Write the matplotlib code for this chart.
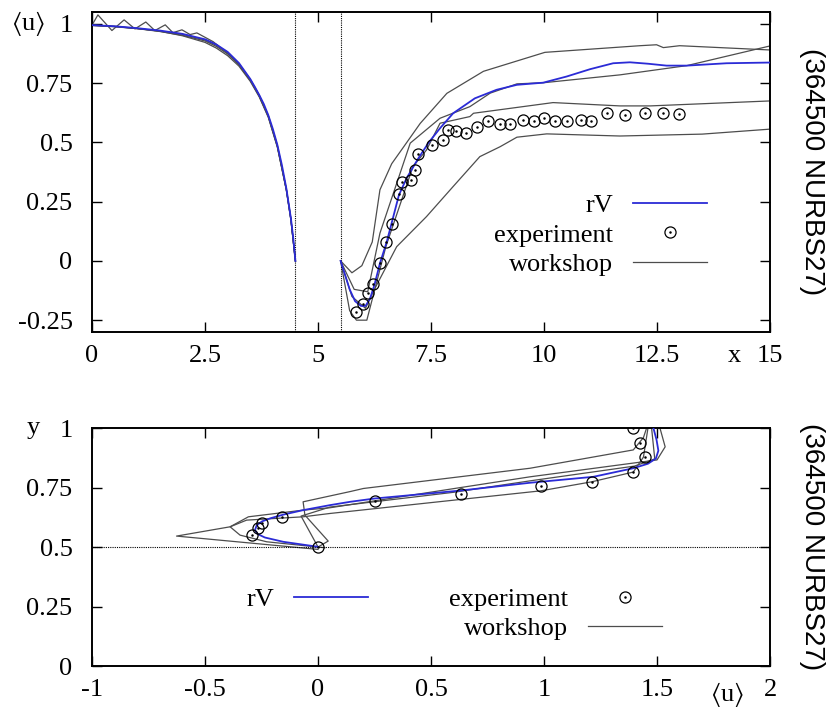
import matplotlib
matplotlib.use("Agg")
import matplotlib.pyplot as plt
from matplotlib.legend_handler import HandlerTuple
from matplotlib.lines import Line2D
import matplotlib.transforms as mtransforms

plt.rcParams["font.family"] = ["Liberation Serif", "DejaVu Serif"]
plt.rcParams["mathtext.fontset"] = "stix"
plt.rcParams["axes.unicode_minus"] = False

# ---------------- upper panel: <u> along x ----------------
x_ticks_top = [0, 2.5, 5, 7.5, 10, 12.5, 15]
x_ticklabels_top = ["0", "2.5", "5", "7.5", "10", "12.5", "15"]
y_ticks_top = [-0.25, 0, 0.25, 0.5, 0.75, 1]
y_ticklabels_top = ["-0.25", "0", "0.25", "0.5", "0.75", "1"]
gap_edges = [4.5, 5.5]

rv_left_x = [0, 0.5, 1, 1.5, 2, 2.5, 2.75, 3, 3.25, 3.5, 3.6, 3.7, 3.8, 3.9, 4.0, 4.1,
             4.2, 4.3, 4.4, 4.45, 4.5]
rv_left_y = [0.995, 0.99, 0.982, 0.972, 0.958, 0.935, 0.913, 0.882, 0.835, 0.768, 0.735,
             0.70, 0.662, 0.615, 0.557, 0.49, 0.405, 0.305, 0.18, 0.10, 0.0]
rv_right_x = [5.5, 5.6, 5.7, 5.82, 5.95, 6.05, 6.15, 6.25, 6.37, 6.52, 6.59, 6.79, 6.96,
              7.22, 7.45, 7.7, 7.99, 8.47, 8.95, 9.4, 9.98, 10.5, 11.02, 11.53, 11.9,
              12.3, 12.71, 13.16, 14.04, 15]
rv_right_y = [0.0, -0.06, -0.12, -0.17, -0.19, -0.19, -0.16, -0.10, -0.01, 0.08, 0.131,
              0.278, 0.349, 0.433, 0.50, 0.56, 0.623, 0.686, 0.722, 0.743, 0.752, 0.778,
              0.809, 0.834, 0.838, 0.832, 0.824, 0.824, 0.834, 0.837]

exp_x = [5.85, 6.00, 6.11, 6.22, 6.37, 6.50, 6.64, 6.80, 6.86, 7.06, 7.15, 7.22, 7.52,
         7.77, 7.87, 8.05, 8.27, 8.52, 8.75, 9.02, 9.24, 9.53, 9.78, 10.01, 10.25, 10.50,
         10.82, 11.04, 11.39, 11.79, 12.23, 12.63, 12.99]
exp_u = [-0.215, -0.181, -0.136, -0.097, -0.007, 0.081, 0.156, 0.281, 0.331, 0.342, 0.382,
         0.451, 0.489, 0.512, 0.553, 0.549, 0.539, 0.563, 0.592, 0.578, 0.578, 0.595,
         0.590, 0.602, 0.589, 0.592, 0.595, 0.592, 0.623, 0.616, 0.623, 0.623, 0.619]

ws_left_x = [
    [0.0, 0.13, 0.44, 0.71, 0.95, 1.19, 1.39, 1.62, 1.79, 1.99, 2.17, 2.32, 2.68, 3.0,
     3.25, 3.5, 3.7, 3.9, 4.1, 4.3, 4.4, 4.5],
    [0, 0.5, 1, 1.5, 2, 2.5, 2.75, 3, 3.25, 3.5, 3.7, 3.9, 4.1, 4.3, 4.4, 4.5],
    [0, 0.5, 1, 1.5, 2, 2.5, 2.75, 3, 3.25, 3.5, 3.7, 3.9, 4.1, 4.3, 4.4, 4.5],
    [0, 0.5, 1, 1.5, 2, 2.5, 2.75, 3, 3.25, 3.5, 3.7, 3.9, 4.1, 4.3, 4.4, 4.5],
]
ws_left_y = [
    [0.995, 1.038, 0.972, 1.017, 0.979, 1.008, 0.972, 0.996, 0.963, 0.975, 0.955, 0.962,
     0.925, 0.876, 0.83, 0.765, 0.698, 0.612, 0.485, 0.30, 0.175, 0.0],
    [0.993, 0.988, 0.98, 0.968, 0.952, 0.928, 0.905, 0.873, 0.828, 0.762, 0.694, 0.608,
     0.482, 0.30, 0.176, 0.0],
    [0.995, 0.99, 0.981, 0.969, 0.95, 0.922, 0.898, 0.866, 0.822, 0.758, 0.692, 0.606,
     0.48, 0.298, 0.172, 0.0],
    [0.994, 0.989, 0.98, 0.97, 0.956, 0.932, 0.91, 0.879, 0.832, 0.766, 0.699, 0.613,
     0.488, 0.303, 0.178, 0.0],
]
ws_right_x = [
    [5.5, 5.75, 5.97, 6.2, 6.37, 6.63, 6.89, 7.26, 7.85, 8.66, 10.02, 12.12, 12.49,
     12.64, 13.0, 15],
    [5.5, 5.8, 6.1, 6.37, 7.04, 7.7, 8.36, 8.81, 9.4, 10.0, 11.68, 13.16, 15],
    [5.5, 5.7, 5.85, 6.08, 6.5, 7.1, 7.4, 7.7, 8.36, 8.44, 10.2, 11.68, 12.35, 15],
    [5.5, 5.75, 6.05, 6.22, 6.74, 7.4, 7.99, 8.58, 9.03, 9.4, 10.06, 11.68, 13.5, 15],
]
ws_right_y = [
    [0.0, -0.05, -0.02, 0.08, 0.30, 0.41, 0.48, 0.58, 0.707, 0.80, 0.88, 0.908, 0.912,
     0.90, 0.908, 0.89],
    [0.0, -0.12, -0.13, 0.117, 0.497, 0.602, 0.651, 0.708, 0.747, 0.752, 0.785, 0.824,
     0.907],
    [0.0, -0.21, -0.25, -0.25, 0.06, 0.398, 0.468, 0.581, 0.609, 0.623, 0.668, 0.654,
     0.654, 0.675],
    [0.0, -0.15, -0.20, -0.13, 0.06, 0.187, 0.314, 0.44, 0.482, 0.522, 0.536, 0.527,
     0.535, 0.556],
]

# ---------------- lower panel: profile of <u> over y ----------------
x_ticks_bot = [-1, -0.5, 0, 0.5, 1, 1.5, 2]
x_ticklabels_bot = ["-1", "-0.5", "0", "0.5", "1", "1.5", "2"]
y_ticks_bot = [0, 0.25, 0.5, 0.75, 1]
y_ticklabels_bot = ["0", "0.25", "0.5", "0.75", "1"]
wall_y = 0.5

rv_prof_u = [0.0, -0.154, -0.235, -0.268, -0.279, -0.271, -0.247, -0.21, -0.154, -0.066,
             0.053, 0.142, 0.252, 0.628, 0.938, 1.218, 1.395, 1.46, 1.495, 1.506, 1.498,
             1.484]
rv_prof_y = [0.501, 0.522, 0.540, 0.555, 0.571, 0.592, 0.608, 0.621, 0.636, 0.655, 0.676,
             0.690, 0.704, 0.737, 0.770, 0.795, 0.831, 0.850, 0.872, 0.905, 0.950, 1.0]

exp_prof_u = [-0.293, -0.264, -0.249, -0.158, 0.001, 0.252, 0.631, 0.985, 1.211, 1.395,
              1.447, 1.425, 1.395]
exp_prof_y = [0.550, 0.581, 0.602, 0.627, 0.501, 0.693, 0.723, 0.756, 0.774, 0.814,
              0.877, 0.936, 1.001]

ws_prof_u = [
    [0.0, 0.045, -0.058, -0.066, 0.142, 0.201, 0.938, 1.395, 1.44, 1.454],
    [0.0, -0.626, -0.389, -0.308, -0.066, 0.053, 0.938, 1.50, 1.536, 1.513],
    [0.03, -0.227, -0.345, -0.389, -0.316, -0.066, 0.053, 0.631, 0.985, 1.211, 1.395,
     1.44, 1.46],
    [0.0, -0.075, 0.053, 0.6, 0.938, 1.4, 1.49, 1.476],
]
ws_prof_y = [
    [0.5, 0.525, 0.634, 0.69, 0.733, 0.746, 0.831, 0.908, 0.96, 1.0],
    [0.49, 0.546, 0.585, 0.627, 0.655, 0.665, 0.795, 0.866, 0.921, 1.0],
    [0.497, 0.522, 0.55, 0.585, 0.613, 0.627, 0.641, 0.70, 0.736, 0.774, 0.815, 0.878,
     1.0],
    [0.5, 0.63, 0.668, 0.73, 0.778, 0.84, 0.87, 1.0],
]

BLUE = "#2b2bd6"
GREY = "#4d4d4d"
FS = 19

fig = plt.figure(figsize=(8.32, 7.09), dpi=100)
ax1 = fig.add_axes([0.1106, 0.5317, 0.8149, 0.4513])
ax2 = fig.add_axes([0.1106, 0.0606, 0.8149, 0.3357])


def style_axes(ax):
    for s in ax.spines.values():
        s.set_linewidth(1.4)
    ax.tick_params(direction="in", top=True, right=True, length=7, width=1,
                   labelsize=FS)
    ax.tick_params(axis="y", pad=14)
    ax.tick_params(axis="x", pad=9)


def draw_exp(ax, xs, ys):
    ax.plot(xs, ys, ls="none", marker="o", ms=8, mfc="none", mec="black", mew=0.9,
            zorder=4)
    ax.plot(xs, ys, ls="none", marker=".", ms=1.6, color="black", zorder=4)


# upper panel
for xs, ys in zip(ws_left_x, ws_left_y):
    ax1.plot(xs, ys, color=GREY, lw=0.9)
for xs, ys in zip(ws_right_x, ws_right_y):
    ax1.plot(xs, ys, color=GREY, lw=0.9)
ax1.plot(rv_left_x, rv_left_y, color=BLUE, lw=1.3, zorder=3)
ax1.plot(rv_right_x, rv_right_y, color=BLUE, lw=1.3, zorder=3)
draw_exp(ax1, exp_x, exp_u)
for xv in gap_edges:
    ax1.axvline(xv, color="black", lw=0.8, ls=(0, (1, 1)))

ax1.set_xlim(0, 15)
ax1.set_ylim(-0.30, 1.05)
ax1.set_xticks(x_ticks_top)
ax1.set_xticklabels(x_ticklabels_top)
ax1.set_yticks(y_ticks_top)
ax1.set_yticklabels(y_ticklabels_top)
style_axes(ax1)

tr1 = mtransforms.blended_transform_factory(ax1.transAxes, ax1.transData)
ax1.text(-0.094, 1.0, r"$\langle$u$\rangle$", transform=tr1, ha="center",
         va="center", fontsize=FS)
tr1x = mtransforms.blended_transform_factory(ax1.transData, ax1.transAxes)
ax1.text(14.22, -0.075, "x", transform=tr1x, ha="center", va="center", fontsize=FS)

h_rv = Line2D([], [], color=BLUE, lw=1.3)
h_exp = (Line2D([], [], ls="none", marker="o", ms=8, mfc="none", mec="black", mew=0.9),
         Line2D([], [], ls="none", marker=".", ms=1.6, color="black"))
h_ws = Line2D([], [], color=GREY, lw=0.9)

leg_kw = dict(frameon=False, markerfirst=False, fontsize=FS, handlelength=2.8,
              handletextpad=0.75, borderpad=0, borderaxespad=0,
              handler_map={tuple: HandlerTuple(ndivide=1)})
ax1.legend([h_rv, h_exp, h_ws], ["rV", "experiment", "workshop"], loc="upper right",
           bbox_to_anchor=(0.907, 0.432), labelspacing=0.22, **leg_kw)

# lower panel
for us, ys in zip(ws_prof_u, ws_prof_y):
    ax2.plot(us, ys, color=GREY, lw=0.9)
ax2.plot(rv_prof_u, rv_prof_y, color=BLUE, lw=1.3, zorder=3)
draw_exp(ax2, exp_prof_u, exp_prof_y)
ax2.axhline(wall_y, color="black", lw=0.8, ls=(0, (1, 1)))

ax2.set_xlim(-1, 2)
ax2.set_ylim(0, 1)
ax2.set_xticks(x_ticks_bot)
ax2.set_xticklabels(x_ticklabels_bot)
ax2.set_yticks(y_ticks_bot)
ax2.set_yticklabels(y_ticklabels_bot)
style_axes(ax2)

tr2 = mtransforms.blended_transform_factory(ax2.transAxes, ax2.transData)
ax2.text(-0.087, 1.0, "y", transform=tr2, ha="center", va="center", fontsize=FS)
tr2x = mtransforms.blended_transform_factory(ax2.transData, ax2.transAxes)
ax2.text(1.81, -0.118, r"$\langle$u$\rangle$", transform=tr2x, ha="center",
         va="center", fontsize=FS)

leg_a = ax2.legend([h_rv], ["rV"], loc="upper right", bbox_to_anchor=(0.407, 0.33),
                   **leg_kw)
ax2.add_artist(leg_a)
ax2.legend([h_exp, h_ws], ["experiment", "workshop"], loc="upper right",
           bbox_to_anchor=(0.84, 0.33), labelspacing=0.22, **leg_kw)

# run tag on the right-hand side
for ax in (ax1, ax2):
    ax.text(1.062, 0.5, "(364500 NURBS27)", transform=ax.transAxes,
            rotation=-90, ha="center", va="center", fontsize=20,
            family="Liberation Sans")

fig.savefig("out.png", dpi=100)
